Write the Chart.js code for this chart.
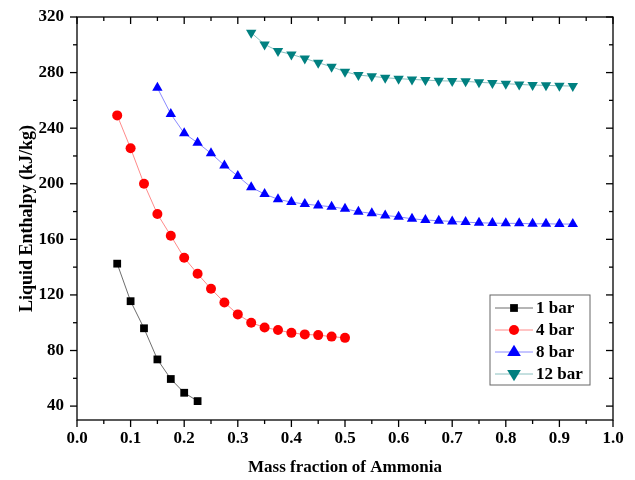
<!DOCTYPE html>
<html><head><meta charset="utf-8">
<script src="https://cdn.jsdelivr.net/npm/chart.js@4/dist/chart.umd.min.js"></script>
<style>html,body{margin:0;padding:0;background:#fff}#wrap{width:635px;height:480px;position:relative}</style>
</head><body><div id="wrap"><canvas id="c"></canvas></div>
<script>
const seriesNames = ['1 bar', '4 bar', '8 bar', '12 bar'];
const x1bar = [0.075, 0.1, 0.125, 0.15, 0.175, 0.2, 0.225];
const h1bar = [142.5, 115.5, 96, 73.6, 59.5, 49.6, 43.6];
const x4bar = [0.075, 0.1, 0.125, 0.15, 0.175, 0.2, 0.225, 0.25, 0.275, 0.3, 0.325, 0.35, 0.375, 0.4, 0.425, 0.45, 0.475, 0.5];
const h4bar = [249.2, 225.5, 200, 178.2, 162.6, 146.7, 135.2, 124.4, 114.6, 106, 100, 96.6, 94.7, 92.7, 91.6, 91.1, 90, 89.1];
const x8bar = [0.15, 0.175, 0.2, 0.225, 0.25, 0.275, 0.3, 0.325, 0.35, 0.375, 0.4, 0.425, 0.45, 0.475, 0.5, 0.525, 0.55, 0.575, 0.6, 0.625, 0.65, 0.675, 0.7, 0.725, 0.75, 0.775, 0.8, 0.825, 0.85, 0.875, 0.9, 0.925];
const h8bar = [269, 250.2, 236.3, 229.5, 221.9, 213.2, 205.5, 197.4, 192.6, 188.8, 186.8, 185.4, 184.4, 183.4, 182, 179.9, 178.7, 177.2, 176.2, 174.8, 173.9, 173.4, 172.9, 172.4, 171.9, 171.7, 171.5, 171.5, 171.2, 171.2, 171, 171];
const x12bar = [0.325, 0.35, 0.375, 0.4, 0.425, 0.45, 0.475, 0.5, 0.525, 0.55, 0.575, 0.6, 0.625, 0.65, 0.675, 0.7, 0.725, 0.75, 0.775, 0.8, 0.825, 0.85, 0.875, 0.9, 0.925];
const h12bar = [308.7, 300.3, 295.5, 293.1, 290.2, 287.1, 284.2, 280.6, 278.2, 277.3, 276.3, 275.6, 275.1, 274.6, 274.1, 273.9, 273.7, 273, 272.5, 272, 271.5, 271, 270.8, 270.5, 270.3];
const xTickLabels = ['0.0','0.1','0.2','0.3','0.4','0.5','0.6','0.7','0.8','0.9','1.0'];
const yTickLabels = ['40','80','120','160','200','240','280','320'];

const FONT = "'Liberation Serif', 'Times New Roman', serif";
const pts = (xs, ys) => xs.map((v, i) => ({x: v, y: ys[i]}));

function mk(label, xs, ys, color, line, style, radius, rot) {
  return {label, data: pts(xs, ys), showLine: true, borderColor: line, backgroundColor: color,
    pointBackgroundColor: color, pointBorderColor: color, borderWidth: 1, pointBorderWidth: 0,
    pointStyle: style, pointRadius: radius, pointRotation: rot, tension: 0,
    markColor: color};
}

function drawMark(ctx, style, x, y, r, rot, color) {
  ctx.save();
  ctx.fillStyle = color;
  ctx.translate(x, y);
  ctx.rotate(rot * Math.PI / 180);
  ctx.beginPath();
  if (style === 'rect') {
    const s = r / Math.SQRT2; ctx.rect(-s, -s, 2 * s, 2 * s);
  } else if (style === 'circle') {
    ctx.arc(0, 0, r, 0, Math.PI * 2);
  } else {
    const a = r * 1.2;
    ctx.moveTo(0, -a); ctx.lineTo(a * 0.95, a * 0.55); ctx.lineTo(-a * 0.95, a * 0.55); ctx.closePath();
  }
  ctx.fill();
  ctx.restore();
}

const framePlugin = {
  id: 'frame',
  afterDraw(chart) {
    const {ctx, chartArea: {left, right, top, bottom}, scales: {x, y}} = chart;
    ctx.save();
    ctx.strokeStyle = '#000';
    ctx.lineWidth = 1.3;
    const line = (a, b, c, d) => { ctx.beginPath(); ctx.moveTo(a, b); ctx.lineTo(c, d); ctx.stroke(); };
    ctx.strokeRect(left, top, right - left, bottom - top);
    for (let i = 0; i <= 20; i++) {
      const px = x.getPixelForValue(i * 0.05);
      const L = i % 2 === 0 ? 7 : 4;
      line(px, bottom, px, bottom + L);
      line(px, top, px, top + L);
    }
    for (let v = 40; v <= 320; v += 20) {
      const py = y.getPixelForValue(v);
      const L = v % 40 === 0 ? 7 : 4;
      line(left - L, py, left, py);
      line(right - L, py, right, py);
    }
    // legend
    const bx = right - 123, by = bottom - 125, bw = 100, bh = 90;
    ctx.lineWidth = 1;
    ctx.strokeStyle = '#666';
    ctx.strokeRect(bx, by, bw, bh);
    ctx.font = "bold 17px " + FONT;
    ctx.textBaseline = 'middle';
    ctx.fillStyle = '#000';
    chart.data.datasets.forEach((ds, i) => {
      const cy = by + 13 + i * 22;
      ctx.strokeStyle = ds.borderColor;
      ctx.lineWidth = 1;
      line(bx + 5, cy, bx + 43, cy);
      drawMark(ctx, ds.pointStyle, bx + 24, cy, ds.pointRadius, ds.pointRotation, ds.markColor);
      ctx.fillStyle = '#000';
      ctx.fillText(ds.label, bx + 46, cy + 1);
    });
    ctx.restore();
  }
};

new Chart(document.getElementById('c'), {
  type: 'scatter',
  data: {
    datasets: [
      mk(seriesNames[0], x1bar, h1bar, '#000000', 'rgba(60,60,60,0.75)', 'rect', 5.5, 0),
      mk(seriesNames[1], x4bar, h4bar, '#ff0000', 'rgba(255,60,60,0.6)', 'circle', 5, 0),
      mk(seriesNames[2], x8bar, h8bar, '#0000ff', 'rgba(60,60,255,0.6)', 'triangle', 6, 0),
      mk(seriesNames[3], x12bar, h12bar, '#008080', 'rgba(60,150,150,0.6)', 'triangle', 6, 180)
    ]
  },
  options: {
    responsive: true, maintainAspectRatio: false, animation: false,
    layout: {padding: {top: 17, right: 22, left: 0, bottom: 0}},
    plugins: {legend: {display: false}, tooltip: {enabled: false}},
    scales: {
      x: {
        type: 'linear', min: 0, max: 1,
        afterFit: s => { s.height = 60; },
        afterBuildTicks: s => { s.ticks = xTickLabels.map(t => ({value: parseFloat(t)})); },
        ticks: {callback: v => v.toFixed(1), color: '#000', font: {family: FONT, size: 17, weight: 'bold'}, padding: 0, maxRotation: 0, autoSkip: false},
        grid: {display: false},
        border: {display: false},
        title: {display: true, text: 'Mass fraction of Ammonia', color: '#000', font: {family: FONT, size: 17, weight: 'bold'}, padding: {top: 0, bottom: 2}}
      },
      y: {
        type: 'linear', min: 30, max: 320,
        afterFit: s => { s.width = 77; },
        afterBuildTicks: s => { s.ticks = yTickLabels.map(t => ({value: parseFloat(t)})); },
        ticks: {color: '#000', font: {family: FONT, size: 17, weight: 'bold'}, padding: 5, autoSkip: false},
        grid: {display: false},
        border: {display: false},
        title: {display: true, text: 'Liquid Enthalpy (kJ/kg)', color: '#000', font: {family: FONT, size: 18, weight: 'bold'}, padding: {top: 17, bottom: 0}}
      }
    }
  },
  plugins: [framePlugin]
});
</script></body></html>
